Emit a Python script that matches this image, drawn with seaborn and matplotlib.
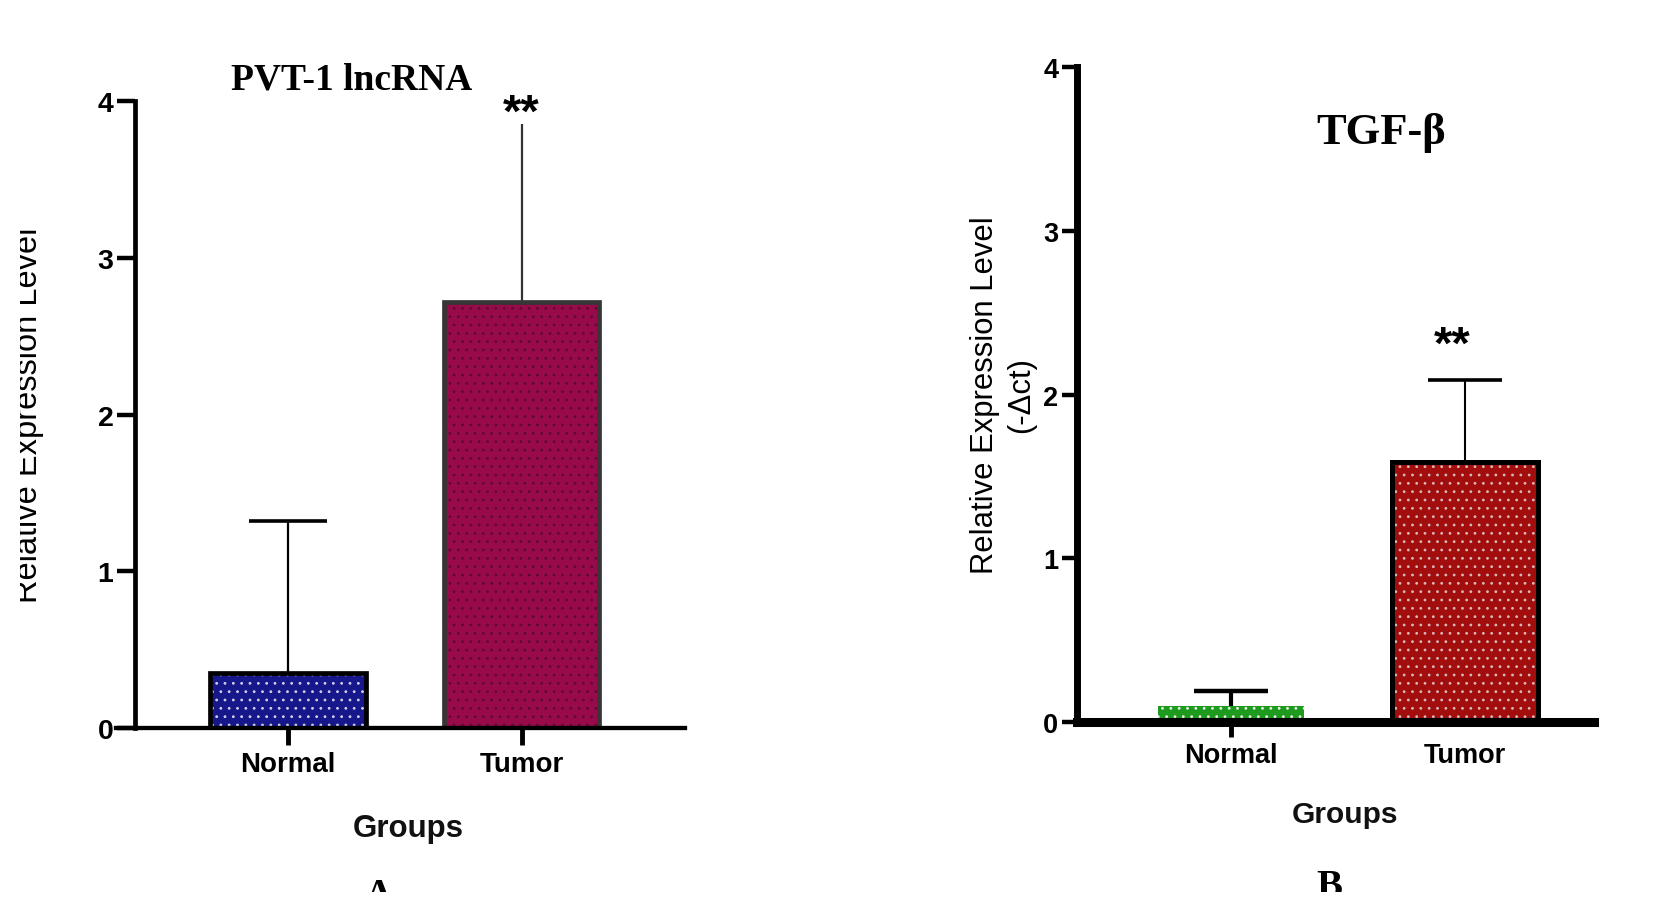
import numpy as np
import matplotlib
matplotlib.use("Agg")
import matplotlib.pyplot as plt
import seaborn as sns
from matplotlib.patches import Rectangle

# ---------------- data ----------------
groups = ["Normal", "Tumor"]
pvt_mean = [0.35, 2.72]
pvt_sd = [0.97, 1.13]
tgf_mean = [0.10, 1.59]
tgf_sd = [0.09, 0.50]
yticks = [0, 1, 2, 3, 4]

sns.set_style("ticks")
plt.rcParams['font.family'] = ['Liberation Sans', 'DejaVu Sans']
plt.rcParams['hatch.linewidth'] = 0.8
for k in ['text.color', 'axes.labelcolor', 'xtick.color', 'ytick.color',
          'axes.edgecolor', 'xtick.labelcolor', 'ytick.labelcolor']:
    plt.rcParams[k] = 'black'

W, H = 1659, 912
fig = plt.figure(figsize=(W / 100, H / 100), dpi=100)


def fx(px):
    return px / W


def fy(py):
    return 1 - py / H


axA = fig.add_axes([fx(116), fy(729.3), fx(685 - 116), (729.3 - 101.7) / H])
axB = fig.add_axes([fx(1077), fy(723), fx(1594 - 1077), (723 - 68.3) / H])


def panel(ax, means, sds, fills, edges, edge_lw, dots, width,
          capw, err_c, err_lw, cap_lw):
    sns.barplot(x=groups, y=means, hue=groups, palette=fills, legend=False,
                width=width, saturation=1, linewidth=0, ax=ax, zorder=2)
    bars = sorted(list(ax.patches), key=lambda p: p.get_x())
    for p, ec, lw, dc in zip(bars, edges, edge_lw, dots):
        ax.add_patch(Rectangle(p.get_xy(), p.get_width(), p.get_height(),
                               fill=False, hatch='..', edgecolor=dc,
                               linewidth=0, zorder=2.1))
        if lw > 0:
            ax.add_patch(Rectangle(p.get_xy(), p.get_width(), p.get_height(),
                                   fill=False, edgecolor=ec, linewidth=lw,
                                   joinstyle='miter', zorder=2.2))
    xs = np.arange(len(groups))
    m = np.array(means)
    tops = m + np.array(sds)
    for x, b, t, cw, c, lw, clw in zip(xs, m, tops, capw, err_c, err_lw, cap_lw):
        ax.vlines(x, b, t, colors=c, linewidth=lw, zorder=1.9)
        if cw > 0:
            ax.hlines(t, x - cw / 2, x + cw / 2, colors=c, linewidth=clw,
                      zorder=3)
    ax.set_ylim(0, 4)
    ax.set_yticks(yticks)
    ax.set_xlabel("")
    ax.set_ylabel("")
    sns.despine(ax=ax)


panel(axA, pvt_mean, pvt_sd,
      fills=["#17178C", "#990A4B"], edges=["#000000", "#363636"],
      edge_lw=[3.4, 3.4], dots=["#cfd0e6", "#5c0a30"], width=0.664,
      capw=[0.33, 0.0], err_c=["#000000", "#333333"],
      err_lw=[1.6, 1.6], cap_lw=[2.6, 2.6])
panel(axB, tgf_mean, tgf_sd,
      fills=["#1E9A1E", "#A20D0D"], edges=["#1E9A1E", "#000000"],
      edge_lw=[0, 3.6], dots=["#e6f4e6", "#d8b8b8"], width=0.62,
      capw=[0.32, 0.32], err_c=["#000000", "#000000"],
      err_lw=[3.0, 1.5], cap_lw=[3.2, 2.6])

axA.set_xlim(-0.7366, 1.700)
axB.set_xlim(-0.658, 1.551)

# left panel axes style
axA.spines['left'].set_position(('axes', (135 - 116) / (685 - 116)))
axA.spines['left'].set_linewidth(3.4)
axA.spines['bottom'].set_linewidth(3.1)
axA.tick_params(axis='y', length=13, width=3.2, pad=2.5, labelsize=20.5,
                direction='out', colors='black')
axA.tick_params(axis='x', length=12, width=3.5, pad=4.5, labelsize=20,
                direction='out', colors='black')

# right panel axes style
axB.spines['left'].set_linewidth(5.0)
axB.spines['bottom'].set_linewidth(6.5)
axB.tick_params(axis='y', length=11, width=3.2, pad=2.5, labelsize=19.5,
                direction='out', colors='black')
axB.tick_params(axis='x', length=11, width=3.5, pad=3.5, labelsize=19.5,
                direction='out', colors='black')
axB.xaxis.get_major_ticks()[1].tick1line.set_visible(False)

for ax in (axA, axB):
    for s in ax.spines.values():
        s.set_color('black')
    plt.setp(ax.get_yticklabels(), fontweight='bold', color='black')
    plt.setp(ax.get_xticklabels(), fontweight='bold', color='black')
    ax.set_facecolor('none')

serif = ['Liberation Serif', 'DejaVu Serif']

# titles
fig.text(fx(352), fy(90), "PVT-1 lncRNA", family=serif, weight='bold',
         size=27, ha='center', va='baseline', color='black')
fig.text(fx(1381), fy(144), "TGF-β", family=serif, weight='bold',
         size=32, ha='center', va='baseline', color='black')

# significance marks
fig.text(fx(521), fy(127), "**", weight='bold', size=34, ha='center',
         va='baseline', color='black', zorder=5)
fig.text(fx(1452), fy(359), "**", weight='bold', size=34, ha='center',
         va='baseline', color='black', zorder=5)

# axis labels
fig.text(fx(28.5), fy(415), "Relative Expression Level", rotation=90,
         ha='center', va='center', size=23.5, color='black')
fig.text(fx(1003), fy(395), "Relative Expression Level\n(-Δct)", rotation=90,
         ha='center', va='center', size=22.3, multialignment='center',
         linespacing=1.3, color='black')
fig.text(fx(408), fy(837), "Groups", weight='bold', size=22.5,
         ha='center', va='baseline', color='#111111')
fig.text(fx(1345), fy(823), "Groups", weight='bold', size=21.5,
         ha='center', va='baseline', color='#111111')

# panel letters
fig.text(fx(379), fy(906), "A", family=serif, weight='bold', size=28,
         ha='center', va='baseline', color='black')
fig.text(fx(1329), fy(897), "B", family=serif, weight='bold', size=28,
         ha='center', va='baseline', color='black')

# page crop (clipped edges as in the source figure)
fig.add_artist(Rectangle((0, 0), 1, fy(893), transform=fig.transFigure,
                         facecolor='white', edgecolor='none', zorder=20))
fig.add_artist(Rectangle((0, 0), fx(20), 1, transform=fig.transFigure,
                         facecolor='white', edgecolor='none', zorder=20))

fig.savefig("out.png", dpi=100, facecolor='white')
